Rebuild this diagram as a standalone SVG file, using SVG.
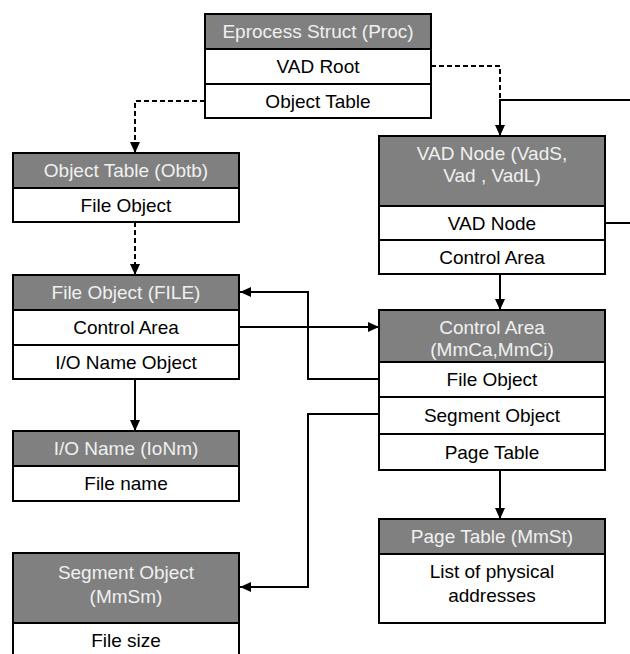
<svg xmlns="http://www.w3.org/2000/svg" width="630" height="654" viewBox="0 0 630 654">
<style>
  .hd { fill: #808080; }
  .bd { fill: #ffffff; }
  .fr { fill: none; stroke: #000; stroke-width: 2; }
  .dv { stroke: #000; stroke-width: 2; }
  text { font-family: "Liberation Sans", Arial, sans-serif; font-size: 19px; text-anchor: middle; }
  .ht { fill: #f0f0f0; }
  .rt { fill: #000; }
  .c { fill: none; stroke: #000; stroke-width: 2; }
  .d { stroke-dasharray: 5 3; }
</style>
<defs>
  <marker id="ar" markerUnits="userSpaceOnUse" markerWidth="12" markerHeight="11" refX="11" refY="5" orient="auto" viewBox="0 0 12 10">
    <path d="M0,0 L11,5 L0,10 z" fill="#000"/>
  </marker>
</defs>
<g id="connectors">
  <path class="c d" d="M205,101 H135 V153" marker-end="url(#ar)"/>
  <path class="c d" d="M431,66 H500 V100"/>
  <path class="c" d="M630,100 H500 V136" marker-end="url(#ar)"/>
  <path class="c d" d="M135,222 V275" marker-end="url(#ar)"/>
  <path class="c" d="M500,274 V310" marker-end="url(#ar)"/>
  <path class="c" d="M240,327 H379" marker-end="url(#ar)"/>
  <path class="c" d="M379,379 H308 V292 H240" marker-end="url(#ar)"/>
  <path class="c" d="M379,414 H308 V587 H240" marker-end="url(#ar)"/>
  <path class="c" d="M135,379 V431" marker-end="url(#ar)"/>
  <path class="c" d="M500,470 V519" marker-end="url(#ar)"/>
  <path class="c" d="M605,223 H630"/>
</g>
<g id="proc">
  <rect class="hd" x="205" y="14" width="226" height="35"/>
  <rect class="bd" x="205" y="49" width="226" height="69"/>
  <line class="dv" x1="205" y1="49" x2="431" y2="49"/>
  <line class="dv" x1="205" y1="84" x2="431" y2="84"/>
  <rect class="fr" x="205" y="14" width="226" height="104"/>
  <text class="ht" x="318" y="38.3">Eprocess Struct (Proc)</text>
  <text class="rt" x="318" y="73.3">VAD Root</text>
  <text class="rt" x="318" y="107.8">Object Table</text>
</g>
<g id="obtb">
  <rect class="hd" x="13" y="153" width="226" height="35"/>
  <rect class="bd" x="13" y="188" width="226" height="34"/>
  <line class="dv" x1="13" y1="188" x2="239" y2="188"/>
  <rect class="fr" x="13" y="153" width="226" height="69"/>
  <text class="ht" x="126" y="177.3">Object Table (Obtb)</text>
  <text class="rt" x="126" y="211.8">File Object</text>
</g>
<g id="file">
  <rect class="hd" x="13" y="275" width="226" height="35"/>
  <rect class="bd" x="13" y="310" width="226" height="69"/>
  <line class="dv" x1="13" y1="310" x2="239" y2="310"/>
  <line class="dv" x1="13" y1="345" x2="239" y2="345"/>
  <rect class="fr" x="13" y="275" width="226" height="104"/>
  <text class="ht" x="126" y="299.3">File Object (FILE)</text>
  <text class="rt" x="126" y="334.3">Control Area</text>
  <text class="rt" x="126" y="368.8">I/O Name Object</text>
</g>
<g id="ionm">
  <rect class="hd" x="13" y="431" width="226" height="35"/>
  <rect class="bd" x="13" y="466" width="226" height="35"/>
  <line class="dv" x1="13" y1="466" x2="239" y2="466"/>
  <rect class="fr" x="13" y="431" width="226" height="70"/>
  <text class="ht" x="126" y="455.3">I/O Name (IoNm)</text>
  <text class="rt" x="126" y="490.3">File name</text>
</g>
<g id="mmsm">
  <rect class="hd" x="13" y="553" width="226" height="70"/>
  <rect class="bd" x="13" y="623" width="226" height="40"/>
  <line class="dv" x1="13" y1="623" x2="239" y2="623"/>
  <rect class="fr" x="13" y="553" width="226" height="110"/>
  <text class="ht" x="126" y="579">Segment Object</text>
  <text class="ht" x="126" y="603">(MmSm)</text>
  <text class="rt" x="126" y="647">File size</text>
</g>
<g id="vad">
  <rect class="hd" x="379" y="136" width="226" height="70"/>
  <rect class="bd" x="379" y="206" width="226" height="68"/>
  <line class="dv" x1="379" y1="206" x2="605" y2="206"/>
  <line class="dv" x1="379" y1="240" x2="605" y2="240"/>
  <rect class="fr" x="379" y="136" width="226" height="138"/>
  <text class="ht" x="492" y="160">VAD Node (VadS,</text>
  <text class="ht" x="492" y="182">Vad , VadL)</text>
  <text class="rt" x="492" y="229.8">VAD Node</text>
  <text class="rt" x="492" y="263.8">Control Area</text>
</g>
<g id="mmca">
  <rect class="hd" x="379" y="310" width="226" height="52"/>
  <rect class="bd" x="379" y="362" width="226" height="108"/>
  <line class="dv" x1="379" y1="362" x2="605" y2="362"/>
  <line class="dv" x1="379" y1="397" x2="605" y2="397"/>
  <line class="dv" x1="379" y1="434" x2="605" y2="434"/>
  <rect class="fr" x="379" y="310" width="226" height="160"/>
  <text class="ht" x="492" y="334">Control Area</text>
  <text class="ht" x="492" y="356">(MmCa,MmCi)</text>
  <text class="rt" x="492" y="386.3">File Object</text>
  <text class="rt" x="492" y="422.3">Segment Object</text>
  <text class="rt" x="492" y="458.8">Page Table</text>
</g>
<g id="mmst">
  <rect class="hd" x="379" y="519" width="226" height="35"/>
  <rect class="bd" x="379" y="554" width="226" height="69"/>
  <line class="dv" x1="379" y1="554" x2="605" y2="554"/>
  <rect class="fr" x="379" y="519" width="226" height="104"/>
  <text class="ht" x="492" y="543.3">Page Table (MmSt)</text>
  <text class="rt" x="492" y="578">List of physical</text>
  <text class="rt" x="492" y="602">addresses</text>
</g>
</svg>
